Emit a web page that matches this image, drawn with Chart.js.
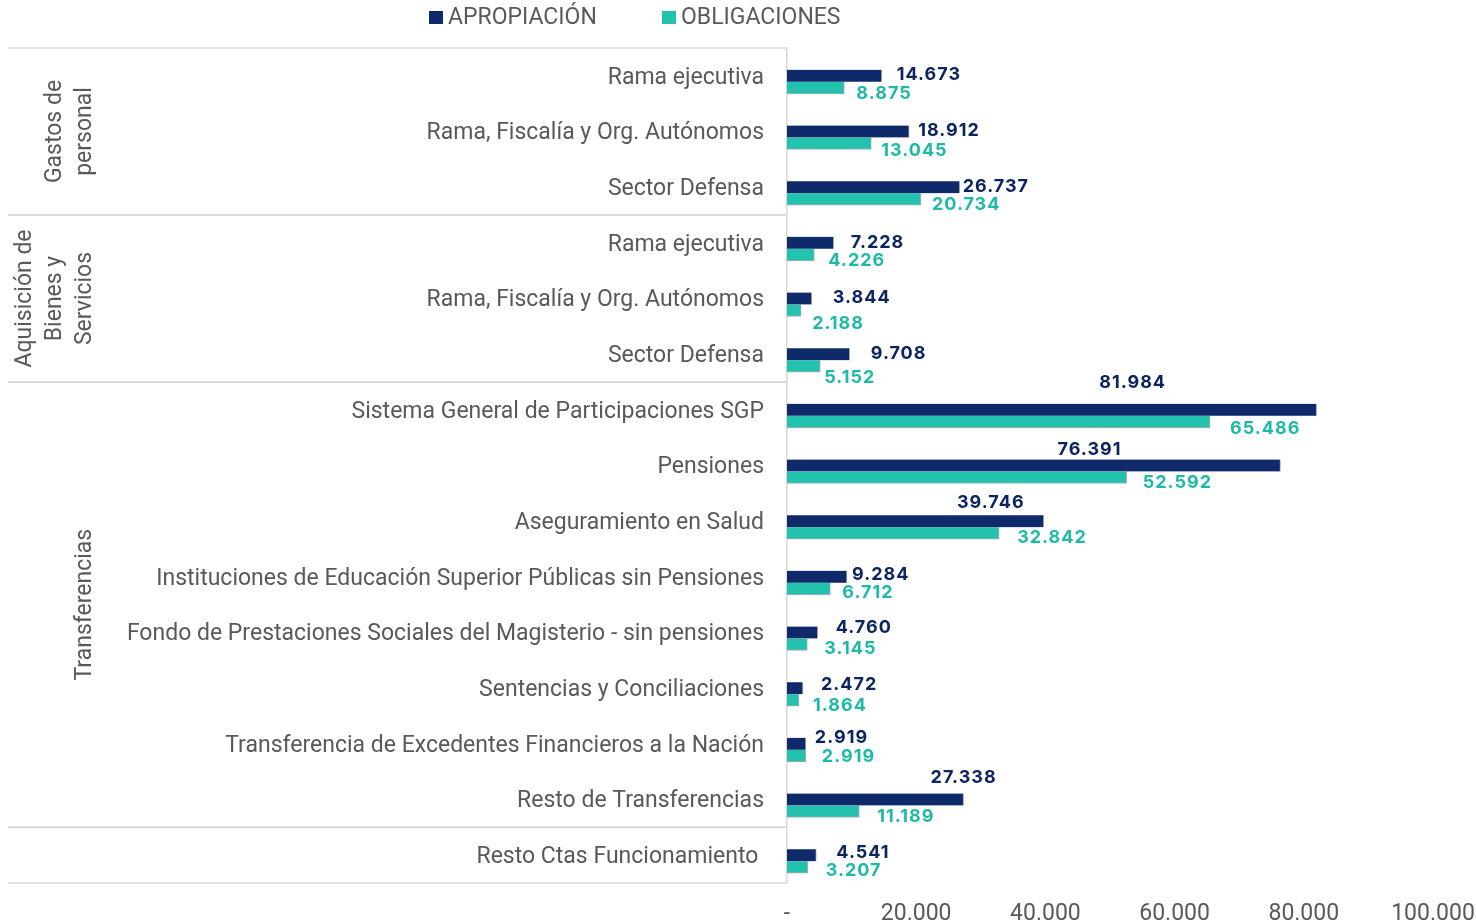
<!DOCTYPE html>
<html>
<head>
<meta charset="utf-8">
<script src="https://cdn.jsdelivr.net/npm/chart.js@4.4.1/dist/chart.umd.min.js"></script>
<style>
  html, body { margin: 0; padding: 0; background: #fff; }
  #wrap { width: 1476px; height: 924px; position: relative; }
</style>
</head>
<body>
<div id="wrap"><canvas id="myChart" width="1476" height="924"></canvas></div>
<script>
const categories = [
  'Rama ejecutiva',
  'Rama, Fiscalía y Org. Autónomos',
  'Sector Defensa',
  'Rama ejecutiva',
  'Rama, Fiscalía y Org. Autónomos',
  'Sector Defensa',
  'Sistema General de Participaciones SGP',
  'Pensiones',
  'Aseguramiento en Salud',
  'Instituciones de Educación Superior Públicas sin Pensiones',
  'Fondo de Prestaciones Sociales del Magisterio - sin pensiones',
  'Sentencias y Conciliaciones',
  'Transferencia de Excedentes Financieros a la Nación',
  'Resto de Transferencias',
  'Resto Ctas Funcionamiento ',
];

const apropiacion = [14673, 18912, 26737, 7228, 3844, 9708, 81984, 76391, 39746, 9284, 4760, 2472, 2919, 27338, 4541];
const obligaciones = [8875, 13045, 20734, 4226, 2188, 5152, 65486, 52592, 32842, 6712, 3145, 1864, 2919, 11189, 3207];

// groups on the left: [label lines, first row, last row]
const groups = [
  [['Gastos de', 'personal'], 0, 2],
  [['Aquisición de', 'Bienes y', 'Servicios'], 3, 5],
  [['Transferencias'], 6, 13],
  [[], 14, 14],
];

const xTicks = [0, 20000, 40000, 60000, 80000, 100000];

// label nudges (px) copied from the excel placement
const navyDx = [15, 9, 3, 17, 21, 21, -184, -191, -53, 5, 18, 18, 9, 0, 20];
const navyDy = [-1, -1, -1, 0, -1, -1, -27, -16, -19, -2, -5, -4, -6, -22, -3];
const navyCentered = [6, 7, 8, 13];
const tealDx = [12, 10, 11, 14, 11, 4, 20, 16, 18, 12, 17, 14, 16, 18, 18];
const tealDy = [6, 7, 5, 6, 13, 11, 7, 5, 4, 4, 4, 5, 1, 5, 3];

const NAVY = '#0e2a6a';
const TEAL = '#22c2ae';
const GREY = '#595959';
const LINE = '#d9d9d9';
const FONT = 'Roboto';
const BAR_SHIFT = 6;

const fmt = (n) => String(n).replace(/\B(?=(\d{3})+(?!\d))/g, '.');

const shiftBars = {
  id: 'shiftBars',
  beforeDatasetsDraw(chart) {
    chart.ctx.save();
    chart.ctx.translate(0, BAR_SHIFT);
  },
  afterDatasetsDraw(chart) {
    chart.ctx.restore();
  },
};

const valueLabels = {
  id: 'valueLabels',
  afterDatasetsDraw(chart) {
    const ctx = chart.ctx;
    ctx.save();
    ctx.font = 'bold 18px Inter';
    ctx.letterSpacing = '1px';
    ctx.textBaseline = 'middle';
    chart.data.datasets.forEach((ds, di) => {
      const meta = chart.getDatasetMeta(di);
      meta.data.forEach((bar, i) => {
        let dx, dy, align = 'left';
        if (di === 0) {
          dx = navyDx[i]; dy = navyDy[i];
          if (navyCentered.includes(i)) align = 'center';
          ctx.fillStyle = '#0d2462';
        } else {
          dx = tealDx[i]; dy = tealDy[i];
          ctx.fillStyle = '#1fbaa6';
        }
        ctx.textAlign = align;
        ctx.fillText(fmt(ds.data[i]), bar.x + dx, bar.y + BAR_SHIFT + dy);
      });
    });
    ctx.restore();
  },
};

const groupBoxes = {
  id: 'groupBoxes',
  afterDraw(chart) {
    const ctx = chart.ctx;
    const area = chart.chartArea;
    const band = (area.bottom - area.top) / categories.length;
    ctx.save();
    ctx.strokeStyle = LINE;
    ctx.lineWidth = 1.5;
    groups.forEach((g) => {
      const y0 = area.top + band * g[1];
      const y1 = area.top + band * (g[2] + 1);
      [y0, y1].forEach((y) => {
        ctx.beginPath();
        ctx.moveTo(8, y);
        ctx.lineTo(area.left, y);
        ctx.stroke();
      });
      const lines = g[0];
      const cy = (y0 + y1) / 2;
      ctx.fillStyle = GREY;
      ctx.font = '23px ' + FONT;
      ctx.textAlign = 'center';
      ctx.textBaseline = 'middle';
      lines.forEach((t, k) => {
        const x = 85 - 30 * (lines.length - 1 - k);
        ctx.save();
        ctx.translate(x, cy);
        ctx.rotate(-Math.PI / 2);
        ctx.fillText(t, 0, 0);
        ctx.restore();
      });
    });
    ctx.restore();
  },
};

const topLegend = {
  id: 'topLegend',
  afterDraw(chart) {
    const ctx = chart.ctx;
    const items = [[429, 0], [662, 1]];
    ctx.save();
    ctx.font = '23px ' + FONT;
    ctx.textBaseline = 'middle';
    ctx.textAlign = 'left';
    items.forEach(([x, di]) => {
      const ds = chart.data.datasets[di];
      ctx.fillStyle = ds.backgroundColor;
      ctx.fillRect(x, 11, 14, 13);
      ctx.fillStyle = GREY;
      ctx.fillText(ds.label, x + 19, 18);
    });
    ctx.restore();
  },
};

const chart = new Chart(document.getElementById('myChart'), {
  type: 'bar',
  data: {
    labels: categories,
    datasets: [
      {
        label: 'APROPIACIÓN',
        backgroundColor: NAVY,
        borderColor: 'rgba(110,110,110,0.6)',
        borderWidth: { top: 0, left: 0, right: 1, bottom: 0 },
        barThickness: 12,
        data: apropiacion,
      },
      {
        label: 'OBLIGACIONES',
        backgroundColor: TEAL,
        borderColor: 'rgba(90,90,90,0.5)',
        borderWidth: { top: 0, left: 0, right: 1, bottom: 1 },
        barThickness: 12,
        data: obligaciones,
      },
    ],
  },
  options: {
    indexAxis: 'y',
    responsive: false,
    animation: false,
    layout: { padding: { top: 48, left: 0, right: 0, bottom: 0 } },
    plugins: {
      legend: { display: false },
      tooltip: { enabled: false },
    },
    scales: {
      y: {
        grid: { display: false, drawTicks: false },
        border: { display: true, color: LINE, width: 1.5 },
        ticks: {
          color: GREY,
          font: { family: FONT, size: 23 },
          padding: 23,
          labelOffset: 2,
          autoSkip: false,
        },
        afterFit(scale) {
          scale.width = 787;
        },
      },
      x: {
        min: 0,
        max: 100000,
        afterBuildTicks(scale) {
          scale.ticks = xTicks.map((v) => ({ value: v }));
        },
        afterFit(scale) {
          scale.height = 41;
          scale.paddingRight = 43;
        },
        grid: { display: false, drawTicks: false },
        border: { display: false },
        ticks: {
          color: GREY,
          font: { family: FONT, size: 23 },
          padding: 17,
          maxRotation: 0,
          callback: (v) => (v === 0 ? '-' : fmt(v)),
        },
      },
    },
  },
  plugins: [shiftBars, valueLabels, groupBoxes, topLegend],
});
</script>
</body>
</html>
